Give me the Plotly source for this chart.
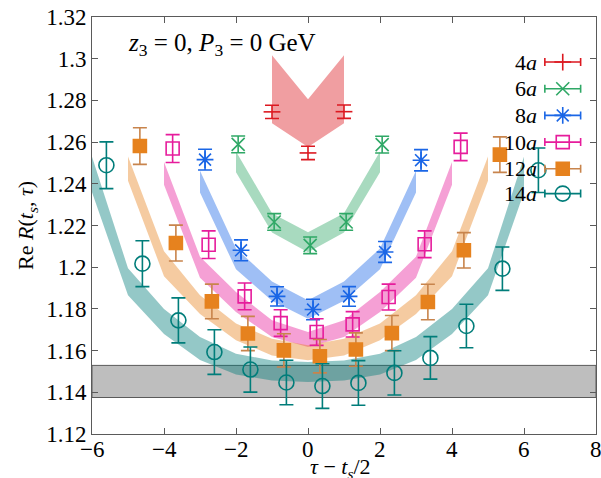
import plotly.graph_objects as go
import numpy as np

# ---------------- data ----------------
labels = ["4a", "6a", "8a", "10a", "12a", "14a"]
ts_list = [4, 6, 8, 10, 12, 14]
x_shift = [0.0, 0.06, 0.14, 0.24, 0.33, 0.40]

r4 = [1.2745, 1.2548, 1.2746]
e4 = [0.0032, 0.0032, 0.0032]
r6 = [1.2589, 1.2217, 1.2105, 1.2217, 1.2588]
e6 = [0.0040, 0.0040, 0.0040, 0.0040, 0.0040]
r8 = [1.2516, 1.2081, 1.1860, 1.1797, 1.1860, 1.2073, 1.2513]
e8 = [0.0050, 0.0050, 0.0046, 0.0049, 0.0047, 0.0050, 0.0051]
r10 = [1.2569, 1.2108, 1.1860, 1.1732, 1.1689, 1.1726, 1.1857, 1.2110, 1.2577]
e10 = [0.0067, 0.0066, 0.0064, 0.0064, 0.0064, 0.0061, 0.0062, 0.0064, 0.0066]
r12 = [1.2581, 1.2116, 1.1836, 1.1682, 1.1601, 1.1573, 1.1605, 1.1684, 1.1833, 1.2081, 1.2540]
e12 = [0.0088, 0.0086, 0.0083, 0.0082, 0.0080, 0.0080, 0.0080, 0.0084, 0.0085, 0.0085, 0.0085]
r14 = [1.2489, 1.2017, 1.1745, 1.1593, 1.1509, 1.1447, 1.1430, 1.1445, 1.1493, 1.1565, 1.1718, 1.1993, 1.2465]
e14 = [0.0112, 0.0110, 0.0108, 0.0107, 0.0108, 0.0107, 0.0107, 0.0107, 0.0106, 0.0102, 0.0104, 0.0104, 0.0107]

# fit bands (centre, half width) at integer tau - ts/2
b4_c = [1.2853, 1.2691, 1.2853]
b4_w = [0.0163, 0.0114, 0.0163]
b6_c = [1.2505, 1.2213, 1.2120, 1.2213, 1.2505]
b6_w = [0.0050, 0.0046, 0.0048, 0.0046, 0.0050]
b8_c = [1.2410, 1.2040, 1.1885, 1.1797, 1.1885, 1.2040, 1.2410]
b8_w = [0.0052, 0.0050, 0.0046, 0.0044, 0.0046, 0.0050, 0.0052]
b10_c = [1.2450, 1.2000, 1.1833, 1.1705, 1.1653, 1.1705, 1.1833, 1.2000, 1.2450]
b10_w = [0.0055, 0.0050, 0.0048, 0.0040, 0.0036, 0.0040, 0.0048, 0.0050, 0.0055]
b12_c = [1.2473, 1.2017, 1.1820, 1.1690, 1.1617, 1.1590, 1.1617, 1.1690, 1.1820, 1.2017, 1.2473]
b12_w = [0.0058, 0.0060, 0.0045, 0.0040, 0.0040, 0.0036, 0.0040, 0.0040, 0.0045, 0.0060, 0.0058]
b14_c = [1.2445, 1.1930, 1.1740, 1.1610, 1.1535, 1.1505, 1.1497, 1.1505, 1.1535, 1.1610, 1.1740, 1.1930, 1.2445]
b14_w = [0.0085, 0.0065, 0.0060, 0.0055, 0.0050, 0.0048, 0.0048, 0.0048, 0.0050, 0.0055, 0.0060, 0.0065, 0.0085]

gray_lo, gray_hi = 1.1375, 1.1529

x_ticks = [-6, -4, -2, 0, 2, 4, 6, 8]
y_ticks = [1.12, 1.14, 1.16, 1.18, 1.2, 1.22, 1.24, 1.26, 1.28, 1.3, 1.32]

# ---------------- styles ----------------
colors = ["#dc1820", "#2fa866", "#1a66e6", "#e61c9c", "#e6821e", "#007d7a"]
err_colors = ["#dc1820", "#2fa866", "#1a66e6", "#e61c9c", "#c8844c", "#007d7a"]
symbols = ["line-ew", "x-thin", "asterisk", "square-open", "square", "circle-open"]
sizes = [12, 13, 14, 13, 13, 15]

R = [r4, r6, r8, r10, r12, r14]
E = [e4, e6, e8, e10, e12, e14]
BC = [b4_c, b6_c, b8_c, b10_c, b12_c, b14_c]
BW = [b4_w, b6_w, b8_w, b10_w, b12_w, b14_w]

def rgba(hexc, a):
    h = hexc.lstrip("#")
    return "rgba(%d,%d,%d,%g)" % (int(h[0:2], 16), int(h[2:4], 16), int(h[4:6], 16), a)

FONT = "Liberation Serif"
fig = go.Figure()

# bands
for i, ts in enumerate(ts_list):
    xb = np.arange(-(ts // 2 - 1), ts // 2, 1.0)
    c = np.array(BC[i]); w = np.array(BW[i])
    fig.add_trace(go.Scatter(
        x=np.concatenate([xb, xb[::-1]]),
        y=np.concatenate([c + w, (c - w)[::-1]]),
        fill="toself", fillcolor=rgba(colors[i], 0.42),
        line=dict(width=0), mode="lines", hoverinfo="skip", showlegend=False))

# points
for i, ts in enumerate(ts_list):
    xp = np.arange(-(ts // 2 - 1), ts // 2, 1.0) + x_shift[i]
    mk = dict(symbol=symbols[i], size=sizes[i], color=colors[i],
              line=dict(color=colors[i], width=1.6))
    fig.add_trace(go.Scatter(
        x=xp, y=R[i], mode="markers", marker=mk, showlegend=False,
        error_y=dict(type="data", array=E[i], color=err_colors[i], thickness=1.6, width=7)))

# legend keys on an overlay frame [0,1]x[0,1]
key_x = 0.934
key_y = [0.892, 0.828, 0.764, 0.700, 0.636, 0.5765]
for i in range(len(labels)):
    mk = dict(symbol=symbols[i] if symbols[i] != "line-ew" else "cross-thin",
              size=sizes[i], color=colors[i], line=dict(color=colors[i], width=1.6))
    fig.add_trace(go.Scatter(
        x=[key_x], y=[key_y[i]], xaxis="x2", yaxis="y2", mode="markers", marker=mk,
        showlegend=False,
        error_x=dict(type="data", array=[0.0355], color=err_colors[i], thickness=1.6, width=4)))
    num = labels[i][:-1]
    fig.add_annotation(xref="paper", yref="paper", x=0.886, y=key_y[i],
                       text=num + "<i>a</i>", showarrow=False, xanchor="right", yanchor="middle",
                       font=dict(family=FONT, size=22, color="black"))

fig.add_annotation(xref="paper", yref="paper", x=0.258, y=0.935, xanchor="center", yanchor="middle",
                   text="<i>z</i><sub>3</sub> = 0, <i>P</i><sub>3</sub> = 0 GeV", showarrow=False,
                   font=dict(family=FONT, size=25, color="black"))

# x tick labels (placed close under the axis, as in the reference)
for v in x_ticks:
    fig.add_annotation(xref="x", yref="paper", x=v, y=-0.037, xanchor="center", yanchor="middle",
                       text=("\u2212%d" % -v) if v < 0 else str(v), showarrow=False,
                       font=dict(family=FONT, size=23, color="black"))

# axis titles as annotations
fig.add_annotation(xref="paper", yref="paper", x=0.494, y=-0.082, xanchor="center", yanchor="middle",
                   text="<i>\u03c4</i> \u2212 <i>t</i><sub><i>s</i></sub>/2", showarrow=False,
                   font=dict(family=FONT, size=22, color="black"))
fig.add_annotation(xref="paper", yref="paper", x=-0.13, y=0.5, xanchor="center", yanchor="middle",
                   text="Re <i>R</i>(<i>t</i><sub><i>s</i></sub>, <i>\u03c4</i>)", showarrow=False,
                   textangle=-90, font=dict(family=FONT, size=22, color="black"))

fig.add_shape(type="rect", xref="paper", yref="y", x0=0, x1=1, y0=gray_lo, y1=gray_hi,
              fillcolor="rgb(190,190,190)", line=dict(color="rgb(90,90,90)", width=1), layer="below")

axis_common = dict(showline=True, mirror="allticks", linecolor="rgb(90,90,90)", linewidth=1,
                   ticks="inside", ticklen=6, tickcolor="rgb(90,90,90)", showgrid=False, zeroline=False,
                   automargin=False,
                   tickfont=dict(family=FONT, size=23, color="black"))

fig.update_layout(
    width=601, height=478,
    margin=dict(l=92, r=5, t=17, b=44, autoexpand=False),
    paper_bgcolor="white", plot_bgcolor="white",
    xaxis=dict(range=[-6, 8], tickvals=x_ticks, showticklabels=False, **axis_common),
    yaxis=dict(range=[1.12, 1.32], tickvals=y_ticks,
               ticktext=[("%g" % v) for v in y_ticks],
               **axis_common),
    xaxis2=dict(overlaying="x", range=[0, 1], visible=False),
    yaxis2=dict(overlaying="y", range=[0, 1], visible=False),
)

fig.write_html("out.html")
